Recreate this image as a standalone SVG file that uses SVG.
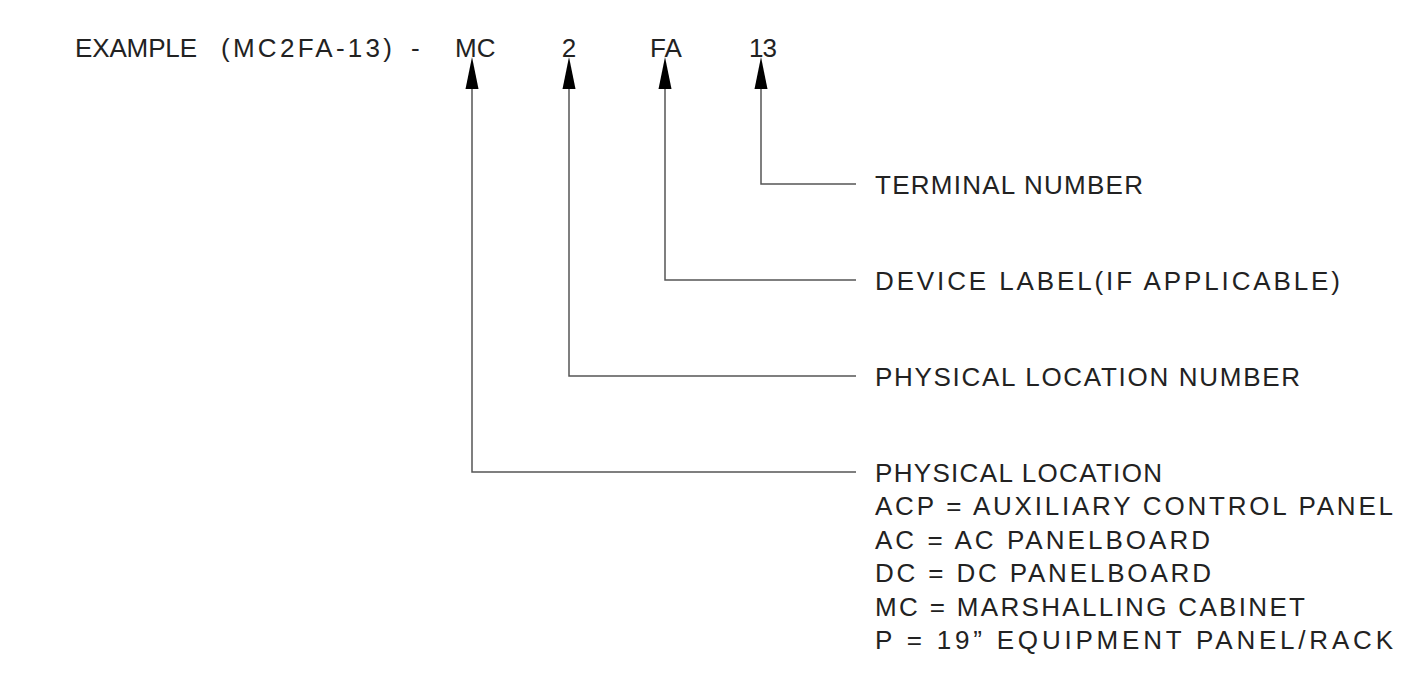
<svg xmlns="http://www.w3.org/2000/svg" width="1403" height="684" viewBox="0 0 1403 684">
<style>
text{font-family:"Liberation Sans","DejaVu Sans",sans-serif;font-size:26px;fill:#222}
.ln{fill:none;stroke:#555;stroke-width:1.5}
.ah{fill:#000}
</style>
<rect width="1403" height="684" fill="#fff"/>
<g id="title">
<text x="75" y="57"><tspan x="75" textLength="122" lengthAdjust="spacing">EXAMPLE</tspan> <tspan x="221" textLength="171" lengthAdjust="spacing">(MC2FA-13)</tspan> <tspan x="411">-</tspan> <tspan x="455">MC</tspan></text>
<text x="569" y="57" text-anchor="middle">2</text>
<text x="666" y="57" text-anchor="middle">FA</text>
<text x="763" y="57" text-anchor="middle" textLength="28" lengthAdjust="spacing">13</text>
</g>
<g id="connectors">
<polyline class="ln" points="761,88 761,184 856,184"/>
<polyline class="ln" points="665,88 665,280 856,280"/>
<polyline class="ln" points="569,88 569,376 856,376"/>
<polyline class="ln" points="472,88 472,472 856,472"/>
<polygon class="ah" points="761,57 754.5,89 767.5,89"/>
<polygon class="ah" points="665,57 658.5,89 671.5,89"/>
<polygon class="ah" points="569,57 562.5,89 575.5,89"/>
<polygon class="ah" points="472,57 465.5,89 478.5,89"/>
</g>
<g id="terminal-number">
<text x="875" y="193.5" textLength="268" lengthAdjust="spacing">TERMINAL NUMBER</text>
</g>
<g id="device-label">
<text x="875" y="289.5" textLength="465" lengthAdjust="spacing">DEVICE LABEL(IF APPLICABLE)</text>
</g>
<g id="physical-location-number">
<text x="875" y="385.5" textLength="425" lengthAdjust="spacing">PHYSICAL LOCATION NUMBER</text>
</g>
<g id="physical-location">
<text x="875" y="481.5" textLength="287" lengthAdjust="spacing">PHYSICAL LOCATION</text>
<text x="875" y="515" textLength="518" lengthAdjust="spacing">ACP = AUXILIARY CONTROL PANEL</text>
<text x="875" y="548.5" textLength="335" lengthAdjust="spacing">AC = AC PANELBOARD</text>
<text x="875" y="582" textLength="336" lengthAdjust="spacing">DC = DC PANELBOARD</text>
<text x="875" y="615.5" textLength="430" lengthAdjust="spacing">MC = MARSHALLING CABINET</text>
<text x="875" y="649" textLength="518" lengthAdjust="spacing">P = 19” EQUIPMENT PANEL/RACK</text>
</g>
</svg>
